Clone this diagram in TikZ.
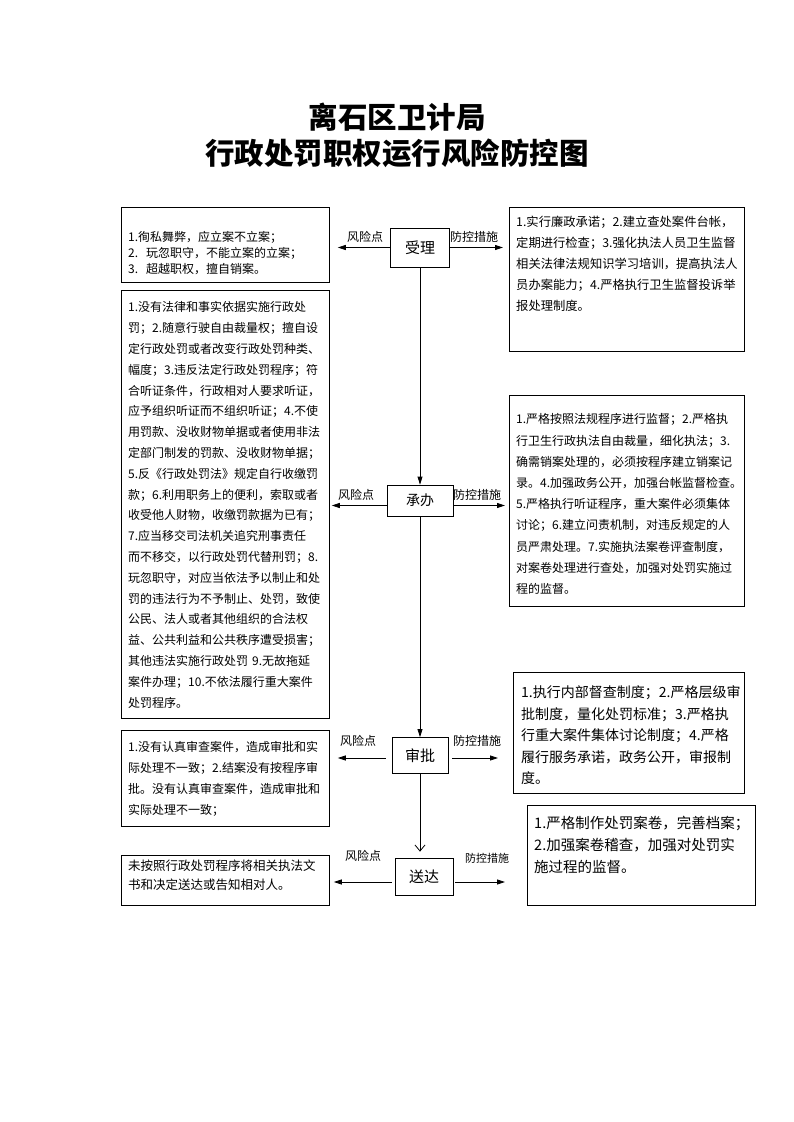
\documentclass[tikz,border=0pt]{standalone}
\usepackage{fontspec}
\setmainfont{Noto Sans CJK SC}
\usetikzlibrary{arrows.meta}
\newcommand\fsz[2]{\fontsize{#1}{#2}\selectfont}
\begin{document}
\begin{tikzpicture}[x=1pt,y=-1pt,
  box/.style={draw, line width=0.8pt, anchor=north west, inner sep=0pt},
  flow/.style={draw, line width=0.8pt, inner sep=0pt, font=\fsz{15}{15}},
  txt/.style={anchor=north west, inner sep=0pt, align=left, text width=#1},
  lbl/.style={inner sep=0pt, font=\fsz{12}{12}},
  arr/.style={line width=0.8pt, -{Triangle[length=8pt,width=5pt]}},
  down/.style={line width=0.8pt, -{Triangle[length=8pt,width=5pt]}},
  openarr/.style={line width=0.8pt, -{Straight Barb[length=6pt,width=10pt]}}
]
\fill[white] (0,0) rectangle (793,1122);
\useasboundingbox (0,0) rectangle (793,1122);

% title
\node[inner sep=0pt, font=\fsz{29.5}{29.5}\bfseries] (t1) at (397,117) {离石区卫计局};
\node[inner sep=0pt, font=\fsz{29.5}{29.5}\bfseries] (t2) at (397,153) {行政处罚职权运行风险防控图};

% flow nodes
\node[flow, minimum width=59pt, minimum height=39pt] (shouli) at (420,247.5) {受理};
\node[flow, minimum width=66pt, minimum height=31pt, font=\fsz{14}{14}] (chengban) at (420,500.5) {承办};
\node[flow, minimum width=56pt, minimum height=36pt] (shenpi) at (420,755.5) {审批};
\node[flow, minimum width=58pt, minimum height=37pt] (songda) at (424,876.5) {送达};

% boxes
\node[box, minimum width=208pt, minimum height=75pt] (boxA) at (121,207) {};
\node[box, minimum width=235pt, minimum height=144pt] (boxB) at (509,207) {};
\node[box, minimum width=208pt, minimum height=428pt] (boxC) at (121,290) {};
\node[box, minimum width=235pt, minimum height=211pt] (boxD) at (509,395) {};
\node[box, minimum width=231pt, minimum height=121pt] (boxE) at (513,672) {};
\node[box, minimum width=208pt, minimum height=96pt] (boxF) at (121,730) {};
\node[box, minimum width=208pt, minimum height=50pt] (boxG) at (121,855) {};
\node[box, minimum width=228pt, minimum height=100pt] (boxH) at (527,805) {};

% box texts
\node[txt=220pt, font=\fsz{12}{16}] (tA) at (128,231) {1.徇私舞弊，应立案不立案；\\2.\ \ 玩忽职守，不能立案的立案；\\3.\ \ 超越职权，擅自销案。};
\node[txt=240pt, font=\fsz{12.3}{21}] (tB) at (516,215.5) {1.实行廉政承诺；2.建立查处案件台帐，\\定期进行检查；3.强化执法人员卫生监督\\相关法律法规知识学习培训，提高执法人\\员办案能力；4.严格执行卫生监督投诉举\\报处理制度。};
\node[txt=220pt, font=\fsz{12}{20.8}] (tC) at (128,301.6) {1.没有法律和事实依据实施行政处\\罚；2.随意行驶自由裁量权；擅自设\\定行政处罚或者改变行政处罚种类、\\幅度；3.违反法定行政处罚程序；符\\合听证条件，行政相对人要求听证，\\应予组织听证而不组织听证；4.不使\\用罚款、没收财物单据或者使用非法\\定部门制发的罚款、没收财物单据；\\5.反《行政处罚法》规定自行收缴罚\\款；6.利用职务上的便利，索取或者\\收受他人财物，收缴罚款据为已有；\\7.应当移交司法机关追究刑事责任\\而不移交，以行政处罚代替刑罚；8.\\玩忽职守，对应当依法予以制止和处\\罚的违法行为不予制止、处罚，致使\\公民、法人或者其他组织的合法权\\益、公共利益和公共秩序遭受损害；\\其他违法实施行政处罚 9.无故拖延\\案件办理；10.不依法履行重大案件\\处罚程序。};
\node[txt=240pt, font=\fsz{12}{21.2}] (tD) at (516,413.6) {1.严格按照法规程序进行监督；2.严格执\\行卫生行政执法自由裁量，细化执法；3.\\确需销案处理的，必须按程序建立销案记\\录。4.加强政务公开，加强台帐监督检查。\\5.严格执行听证程序，重大案件必须集体\\讨论；6.建立问责机制，对违反规定的人\\员严肃处理。7.实施执法案卷评查制度，\\对案卷处理进行查处，加强对处罚实施过\\程的监督。};
\node[txt=240pt, font=\fsz{14}{21.5}] (tE) at (521,685.7) {1.执行内部督查制度；2.严格层级审\\批制度，量化处罚标准；3.严格执\\行重大案件集体讨论制度；4.严格\\履行服务承诺，政务公开，审报制\\度。};
\node[txt=220pt, font=\fsz{12}{21}] (tF) at (128,741.6) {1.没有认真审查案件，造成审批和实\\际处理不一致；2.结案没有按程序审\\批。没有认真审查案件，造成审批和\\实际处理不一致；};
\node[txt=220pt, font=\fsz{12.5}{19}] (tG) at (128,859.4) {未按照行政处罚程序将相关执法文\\书和决定送达或告知相对人。};
\node[txt=240pt, font=\fsz{14.5}{22}] (tH) at (534,815.5) {1.严格制作处罚案卷，完善档案；\\2.加强案卷稽查，加强对处罚实\\施过程的监督。};

% vertical flow
\draw[down] (shouli.south) -- (chengban.north);
\draw[down] (chengban.south) -- (shenpi.north);
\draw[openarr, shorten >=6pt] (shenpi.south) -- (shenpi.south |- songda.north);

% horizontal arrows
\draw[arr, shorten >=8pt] (shouli.west) -- (shouli.west -| boxA.east);
\draw[arr, shorten >=6pt] (shouli.east) -- (shouli.east -| boxB.west);
\draw[arr, shorten >=2pt] ([yshift=-5pt]chengban.west) -- ([yshift=-5pt]chengban.west -| boxC.east);
\draw[arr, shorten >=4pt] ([yshift=-5pt]chengban.east) -- ([yshift=-5pt]chengban.east -| boxD.west);
\draw[arr, shorten >=8pt, shorten <=6pt] ([yshift=-2.5pt]shenpi.west) -- ([yshift=-2.5pt]shenpi.west -| boxF.east);
\draw[arr, shorten >=15pt, shorten <=4pt] ([yshift=-2.5pt]shenpi.east) -- ([yshift=-2.5pt]shenpi.east -| boxE.west);
\draw[arr, shorten >=4pt, shorten <=3pt] ([yshift=-5.5pt]songda.west) -- ([yshift=-5.5pt]songda.west -| boxG.east);
\draw[arr, shorten >=22pt, shorten <=2pt] ([yshift=-5.5pt]songda.east) -- ([yshift=-5.5pt]songda.east -| boxH.west);

% labels
\node[lbl] (l1a) at (365,237) {风险点};
\node[lbl] (l1b) at (474,237) {防控措施};
\node[lbl] (l2a) at (356,495) {风险点};
\node[lbl] (l2b) at (477,495) {防控措施};
\node[lbl] (l3a) at (358,741) {风险点};
\node[lbl] (l3b) at (477,741) {防控措施};
\node[lbl] (l4a) at (363,856) {风险点};
\node[lbl, font=\fsz{11}{11}] (l4b) at (487,858) {防控措施};
\end{tikzpicture}
\end{document}
